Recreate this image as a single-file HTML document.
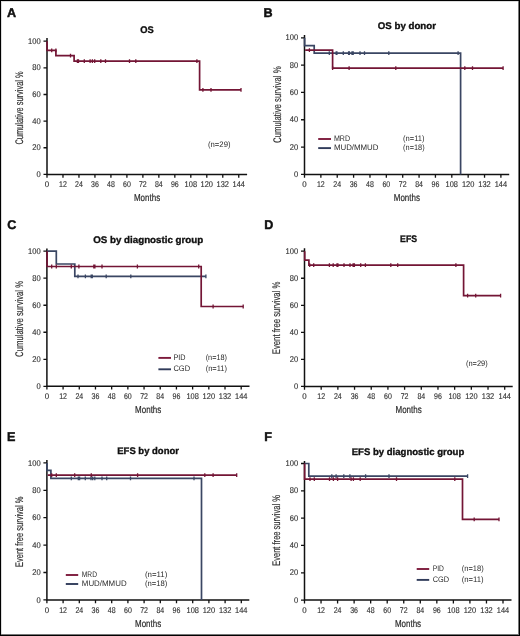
<!DOCTYPE html>
<html><head><meta charset="utf-8"><style>
html,body{margin:0;padding:0;background:#fff;}
svg{display:block;will-change:transform;}
text{font-family:"Liberation Sans",sans-serif;text-rendering:geometricPrecision;}
.t{font-size:8.3px;fill:#333;stroke:#333;stroke-width:0.15px;}
.m{font-size:10.2px;fill:#2b2b2b;stroke:#2b2b2b;stroke-width:0.2px;}
.yt{font-size:11px;fill:#2b2b2b;stroke:#2b2b2b;stroke-width:0.15px;}
.ti{font-size:9.6px;font-weight:bold;fill:#111;stroke:#111;stroke-width:0.35px;}
.pl{font-size:12.6px;font-weight:bold;fill:#111;stroke:#111;stroke-width:0.45px;}
.lg{font-size:8px;fill:#2b2b2b;}
</style></head><body>
<svg width="520" height="636" viewBox="0 0 520 636">
<rect x="0" y="0" width="520" height="636" fill="#fff"/>
<g id="pA"><path d="M47,38 V174.4 H247.1" fill="none" stroke="#111" stroke-width="1.5"/>
<text x="40.7" y="177" text-anchor="end" class="t" textLength="4.2" lengthAdjust="spacingAndGlyphs">0</text>
<text x="40.7" y="150.36" text-anchor="end" class="t" textLength="8.4" lengthAdjust="spacingAndGlyphs">20</text>
<text x="40.7" y="123.72" text-anchor="end" class="t" textLength="8.4" lengthAdjust="spacingAndGlyphs">40</text>
<text x="40.7" y="97.08" text-anchor="end" class="t" textLength="8.4" lengthAdjust="spacingAndGlyphs">60</text>
<text x="40.7" y="70.44" text-anchor="end" class="t" textLength="8.4" lengthAdjust="spacingAndGlyphs">80</text>
<text x="40.7" y="43.8" text-anchor="end" class="t" textLength="12.6" lengthAdjust="spacingAndGlyphs">100</text>
<text x="47" y="187.3" text-anchor="middle" class="t" textLength="4.4" lengthAdjust="spacingAndGlyphs">0</text>
<text x="62.98" y="187.3" text-anchor="middle" class="t" textLength="7.8" lengthAdjust="spacingAndGlyphs">12</text>
<text x="78.96" y="187.3" text-anchor="middle" class="t" textLength="7.8" lengthAdjust="spacingAndGlyphs">24</text>
<text x="94.94" y="187.3" text-anchor="middle" class="t" textLength="7.8" lengthAdjust="spacingAndGlyphs">36</text>
<text x="110.92" y="187.3" text-anchor="middle" class="t" textLength="7.8" lengthAdjust="spacingAndGlyphs">48</text>
<text x="126.9" y="187.3" text-anchor="middle" class="t" textLength="7.8" lengthAdjust="spacingAndGlyphs">60</text>
<text x="142.88" y="187.3" text-anchor="middle" class="t" textLength="7.8" lengthAdjust="spacingAndGlyphs">72</text>
<text x="158.85" y="187.3" text-anchor="middle" class="t" textLength="7.8" lengthAdjust="spacingAndGlyphs">84</text>
<text x="174.83" y="187.3" text-anchor="middle" class="t" textLength="7.8" lengthAdjust="spacingAndGlyphs">96</text>
<text x="190.81" y="187.3" text-anchor="middle" class="t" textLength="12.4" lengthAdjust="spacingAndGlyphs">108</text>
<text x="206.79" y="187.3" text-anchor="middle" class="t" textLength="12.4" lengthAdjust="spacingAndGlyphs">120</text>
<text x="222.77" y="187.3" text-anchor="middle" class="t" textLength="12.4" lengthAdjust="spacingAndGlyphs">132</text>
<text x="238.75" y="187.3" text-anchor="middle" class="t" textLength="12.4" lengthAdjust="spacingAndGlyphs">144</text>
<path d="M43.5,174.4 H47 M43.5,147.76 H47 M43.5,121.12 H47 M43.5,94.48 H47 M43.5,67.84 H47 M43.5,41.2 H47 M47,174.4 V177.7 M62.98,174.4 V177.7 M78.96,174.4 V177.7 M94.94,174.4 V177.7 M110.92,174.4 V177.7 M126.9,174.4 V177.7 M142.88,174.4 V177.7 M158.85,174.4 V177.7 M174.83,174.4 V177.7 M190.81,174.4 V177.7 M206.79,174.4 V177.7 M222.77,174.4 V177.7 M238.75,174.4 V177.7" fill="none" stroke="#111" stroke-width="1.3"/>
<text x="147.05" y="201.1" text-anchor="middle" class="m" textLength="26.2" lengthAdjust="spacingAndGlyphs">Months</text>
<text transform="translate(22.6,108) rotate(-90)" x="0" y="0" text-anchor="middle" class="yt" textLength="73.2" lengthAdjust="spacingAndGlyphs">Cumulative survival %</text>
<text x="147.05" y="32.8" text-anchor="middle" class="ti" textLength="13.5" lengthAdjust="spacingAndGlyphs">OS</text>
<text x="7" y="17" class="pl">A</text>
<path d="M47.1,41.2 V50.4 H55.9 V55.6 H74.1 V61.2 H199.6 V89.8 H241" fill="none" stroke="#731535" stroke-width="1.7"/>
<path d="M51.7,48.5 V52.3 M55.9,48.5 V52.3 M70.5,53.7 V57.5 M77.4,59.3 V63.1 M78.5,59.3 V63.1 M84.3,59.3 V63.1 M90.1,59.3 V63.1 M92.4,59.3 V63.1 M94.7,59.3 V63.1 M100.8,59.3 V63.1 M105.5,59.3 V63.1 M129.5,59.3 V63.1 M135.8,59.3 V63.1 M196.9,59.3 V63.1 M202.9,87.9 V91.7 M211,87.9 V91.7 M241,87.9 V91.7" fill="none" stroke="#731535" stroke-width="1.3"/>
<text x="208" y="146.7" class="lg" textLength="22.5" lengthAdjust="spacingAndGlyphs">(n=29)</text></g>
<g id="pB"><path d="M304.5,34.9 V174.4 H509.2" fill="none" stroke="#111" stroke-width="1.5"/>
<text x="298.2" y="177" text-anchor="end" class="t" textLength="4.2" lengthAdjust="spacingAndGlyphs">0</text>
<text x="298.2" y="149.68" text-anchor="end" class="t" textLength="8.4" lengthAdjust="spacingAndGlyphs">20</text>
<text x="298.2" y="122.36" text-anchor="end" class="t" textLength="8.4" lengthAdjust="spacingAndGlyphs">40</text>
<text x="298.2" y="95.04" text-anchor="end" class="t" textLength="8.4" lengthAdjust="spacingAndGlyphs">60</text>
<text x="298.2" y="67.72" text-anchor="end" class="t" textLength="8.4" lengthAdjust="spacingAndGlyphs">80</text>
<text x="298.2" y="40.4" text-anchor="end" class="t" textLength="12.6" lengthAdjust="spacingAndGlyphs">100</text>
<text x="304.5" y="187.3" text-anchor="middle" class="t" textLength="4.4" lengthAdjust="spacingAndGlyphs">0</text>
<text x="320.87" y="187.3" text-anchor="middle" class="t" textLength="7.8" lengthAdjust="spacingAndGlyphs">12</text>
<text x="337.23" y="187.3" text-anchor="middle" class="t" textLength="7.8" lengthAdjust="spacingAndGlyphs">24</text>
<text x="353.6" y="187.3" text-anchor="middle" class="t" textLength="7.8" lengthAdjust="spacingAndGlyphs">36</text>
<text x="369.97" y="187.3" text-anchor="middle" class="t" textLength="7.8" lengthAdjust="spacingAndGlyphs">48</text>
<text x="386.33" y="187.3" text-anchor="middle" class="t" textLength="7.8" lengthAdjust="spacingAndGlyphs">60</text>
<text x="402.7" y="187.3" text-anchor="middle" class="t" textLength="7.8" lengthAdjust="spacingAndGlyphs">72</text>
<text x="419.07" y="187.3" text-anchor="middle" class="t" textLength="7.8" lengthAdjust="spacingAndGlyphs">84</text>
<text x="435.43" y="187.3" text-anchor="middle" class="t" textLength="7.8" lengthAdjust="spacingAndGlyphs">96</text>
<text x="451.8" y="187.3" text-anchor="middle" class="t" textLength="12.4" lengthAdjust="spacingAndGlyphs">108</text>
<text x="468.17" y="187.3" text-anchor="middle" class="t" textLength="12.4" lengthAdjust="spacingAndGlyphs">120</text>
<text x="484.53" y="187.3" text-anchor="middle" class="t" textLength="12.4" lengthAdjust="spacingAndGlyphs">132</text>
<text x="500.9" y="187.3" text-anchor="middle" class="t" textLength="12.4" lengthAdjust="spacingAndGlyphs">144</text>
<path d="M301,174.4 H304.5 M301,147.08 H304.5 M301,119.76 H304.5 M301,92.44 H304.5 M301,65.12 H304.5 M301,37.8 H304.5 M304.5,174.4 V177.7 M320.87,174.4 V177.7 M337.23,174.4 V177.7 M353.6,174.4 V177.7 M369.97,174.4 V177.7 M386.33,174.4 V177.7 M402.7,174.4 V177.7 M419.07,174.4 V177.7 M435.43,174.4 V177.7 M451.8,174.4 V177.7 M468.17,174.4 V177.7 M484.53,174.4 V177.7 M500.9,174.4 V177.7" fill="none" stroke="#111" stroke-width="1.3"/>
<text x="406.85" y="201.1" text-anchor="middle" class="m" textLength="26.2" lengthAdjust="spacingAndGlyphs">Months</text>
<text transform="translate(280.8,104.7) rotate(-90)" x="0" y="0" text-anchor="middle" class="yt" textLength="76.6" lengthAdjust="spacingAndGlyphs">Cumulative survival %</text>
<text x="406.85" y="28.9" text-anchor="middle" class="ti" textLength="58.2" lengthAdjust="spacingAndGlyphs">OS by donor</text>
<text x="263.5" y="17" class="pl">B</text>
<path d="M304.6,37.8 V45.7 H314.2 V53.1 H460.6 V174.4" fill="none" stroke="#3a4663" stroke-width="1.7"/>
<path d="M329.3,51.2 V55 M336.2,51.2 V55 M336.9,51.2 V55 M343.3,51.2 V55 M348.6,51.2 V55 M349.4,51.2 V55 M352,51.2 V55 M353.2,51.2 V55 M360,51.2 V55 M364.5,51.2 V55 M388.8,51.2 V55 M458.1,51.2 V55" fill="none" stroke="#3a4663" stroke-width="1.3"/>
<path d="M305.2,50.2 H332.6 V68.2 H503.1" fill="none" stroke="#731535" stroke-width="1.7"/>
<path d="M309.4,48.3 V52.1 M332.6,66.3 V70.1 M349.1,66.3 V70.1 M395.8,66.3 V70.1 M464.8,66.3 V70.1 M472.5,66.3 V70.1 M503.1,66.3 V70.1" fill="none" stroke="#731535" stroke-width="1.3"/>
<path d="M318.2,139 H331" stroke="#7d1a3c" stroke-width="1.9"/>
<text x="333.9" y="140.8" class="lg" textLength="16.2" lengthAdjust="spacingAndGlyphs">MRD</text>
<text x="403.1" y="140.8" class="lg" textLength="21.5" lengthAdjust="spacingAndGlyphs">(n=11)</text>
<path d="M318.2,148.1 H331" stroke="#303b5a" stroke-width="1.9"/>
<text x="333.9" y="149.9" class="lg" textLength="44.6" lengthAdjust="spacingAndGlyphs">MUD/MMUD</text>
<text x="403.1" y="149.9" class="lg" textLength="21.5" lengthAdjust="spacingAndGlyphs">(n=18)</text></g>
<g id="pC"><path d="M46.9,248.5 V386.3 H249.5" fill="none" stroke="#111" stroke-width="1.5"/>
<text x="40.6" y="388.9" text-anchor="end" class="t" textLength="4.2" lengthAdjust="spacingAndGlyphs">0</text>
<text x="40.6" y="361.88" text-anchor="end" class="t" textLength="8.4" lengthAdjust="spacingAndGlyphs">20</text>
<text x="40.6" y="334.86" text-anchor="end" class="t" textLength="8.4" lengthAdjust="spacingAndGlyphs">40</text>
<text x="40.6" y="307.84" text-anchor="end" class="t" textLength="8.4" lengthAdjust="spacingAndGlyphs">60</text>
<text x="40.6" y="280.82" text-anchor="end" class="t" textLength="8.4" lengthAdjust="spacingAndGlyphs">80</text>
<text x="40.6" y="253.8" text-anchor="end" class="t" textLength="12.6" lengthAdjust="spacingAndGlyphs">100</text>
<text x="46.9" y="399.2" text-anchor="middle" class="t" textLength="4.4" lengthAdjust="spacingAndGlyphs">0</text>
<text x="63.09" y="399.2" text-anchor="middle" class="t" textLength="7.8" lengthAdjust="spacingAndGlyphs">12</text>
<text x="79.28" y="399.2" text-anchor="middle" class="t" textLength="7.8" lengthAdjust="spacingAndGlyphs">24</text>
<text x="95.47" y="399.2" text-anchor="middle" class="t" textLength="7.8" lengthAdjust="spacingAndGlyphs">36</text>
<text x="111.67" y="399.2" text-anchor="middle" class="t" textLength="7.8" lengthAdjust="spacingAndGlyphs">48</text>
<text x="127.86" y="399.2" text-anchor="middle" class="t" textLength="7.8" lengthAdjust="spacingAndGlyphs">60</text>
<text x="144.05" y="399.2" text-anchor="middle" class="t" textLength="7.8" lengthAdjust="spacingAndGlyphs">72</text>
<text x="160.24" y="399.2" text-anchor="middle" class="t" textLength="7.8" lengthAdjust="spacingAndGlyphs">84</text>
<text x="176.43" y="399.2" text-anchor="middle" class="t" textLength="7.8" lengthAdjust="spacingAndGlyphs">96</text>
<text x="192.62" y="399.2" text-anchor="middle" class="t" textLength="12.4" lengthAdjust="spacingAndGlyphs">108</text>
<text x="208.82" y="399.2" text-anchor="middle" class="t" textLength="12.4" lengthAdjust="spacingAndGlyphs">120</text>
<text x="225.01" y="399.2" text-anchor="middle" class="t" textLength="12.4" lengthAdjust="spacingAndGlyphs">132</text>
<text x="241.2" y="399.2" text-anchor="middle" class="t" textLength="12.4" lengthAdjust="spacingAndGlyphs">144</text>
<path d="M43.4,386.3 H46.9 M43.4,359.28 H46.9 M43.4,332.26 H46.9 M43.4,305.24 H46.9 M43.4,278.22 H46.9 M43.4,251.2 H46.9 M46.9,386.3 V389.6 M63.09,386.3 V389.6 M79.28,386.3 V389.6 M95.47,386.3 V389.6 M111.67,386.3 V389.6 M127.86,386.3 V389.6 M144.05,386.3 V389.6 M160.24,386.3 V389.6 M176.43,386.3 V389.6 M192.62,386.3 V389.6 M208.82,386.3 V389.6 M225.01,386.3 V389.6 M241.2,386.3 V389.6" fill="none" stroke="#111" stroke-width="1.3"/>
<text x="148.2" y="413" text-anchor="middle" class="m" textLength="26.2" lengthAdjust="spacingAndGlyphs">Months</text>
<text transform="translate(22.9,318.9) rotate(-90)" x="0" y="0" text-anchor="middle" class="yt" textLength="76.0" lengthAdjust="spacingAndGlyphs">Cumulative survival %</text>
<text x="148.2" y="243" text-anchor="middle" class="ti" textLength="110" lengthAdjust="spacingAndGlyphs">OS by diagnostic group</text>
<text x="7.2" y="229" class="pl">C</text>
<path d="M47,251.2 H56.3 V264 H74.8 V276.4 H205.9" fill="none" stroke="#3a4663" stroke-width="1.7"/>
<path d="M78,274.5 V278.3 M85.4,274.5 V278.3 M91.2,274.5 V278.3 M92.3,274.5 V278.3 M106.2,274.5 V278.3 M130.8,274.5 V278.3 M205.9,274.5 V278.3" fill="none" stroke="#3a4663" stroke-width="1.3"/>
<path d="M47.1,251.2 V266.5 H201.2 V306.5 H243.2" fill="none" stroke="#731535" stroke-width="1.7"/>
<path d="M51.7,264.6 V268.4 M56.3,264.6 V268.4 M71.3,264.6 V268.4 M78.9,264.6 V268.4 M93.8,264.6 V268.4 M94.9,264.6 V268.4 M102,264.6 V268.4 M137.4,264.6 V268.4 M198.7,264.6 V268.4 M213.1,304.6 V308.4 M243.2,304.6 V308.4" fill="none" stroke="#731535" stroke-width="1.3"/>
<path d="M158.4,357.9 H171" stroke="#7d1a3c" stroke-width="1.9"/>
<text x="173.4" y="359.7" class="lg" textLength="12.1" lengthAdjust="spacingAndGlyphs">PID</text>
<text x="205.7" y="359.7" class="lg" textLength="21.3" lengthAdjust="spacingAndGlyphs">(n=18)</text>
<path d="M158.4,369.3 H171" stroke="#303b5a" stroke-width="1.9"/>
<text x="173.4" y="371.1" class="lg" textLength="16.7" lengthAdjust="spacingAndGlyphs">CGD</text>
<text x="205.7" y="371.1" class="lg" textLength="21.3" lengthAdjust="spacingAndGlyphs">(n=11)</text></g>
<g id="pD"><path d="M304.5,248.2 V386.4 H512.7" fill="none" stroke="#111" stroke-width="1.5"/>
<text x="298.2" y="389" text-anchor="end" class="t" textLength="4.2" lengthAdjust="spacingAndGlyphs">0</text>
<text x="298.2" y="361.96" text-anchor="end" class="t" textLength="8.4" lengthAdjust="spacingAndGlyphs">20</text>
<text x="298.2" y="334.92" text-anchor="end" class="t" textLength="8.4" lengthAdjust="spacingAndGlyphs">40</text>
<text x="298.2" y="307.88" text-anchor="end" class="t" textLength="8.4" lengthAdjust="spacingAndGlyphs">60</text>
<text x="298.2" y="280.84" text-anchor="end" class="t" textLength="8.4" lengthAdjust="spacingAndGlyphs">80</text>
<text x="298.2" y="253.8" text-anchor="end" class="t" textLength="12.6" lengthAdjust="spacingAndGlyphs">100</text>
<text x="304.5" y="399.3" text-anchor="middle" class="t" textLength="4.4" lengthAdjust="spacingAndGlyphs">0</text>
<text x="321.18" y="399.3" text-anchor="middle" class="t" textLength="7.8" lengthAdjust="spacingAndGlyphs">12</text>
<text x="337.87" y="399.3" text-anchor="middle" class="t" textLength="7.8" lengthAdjust="spacingAndGlyphs">24</text>
<text x="354.55" y="399.3" text-anchor="middle" class="t" textLength="7.8" lengthAdjust="spacingAndGlyphs">36</text>
<text x="371.23" y="399.3" text-anchor="middle" class="t" textLength="7.8" lengthAdjust="spacingAndGlyphs">48</text>
<text x="387.92" y="399.3" text-anchor="middle" class="t" textLength="7.8" lengthAdjust="spacingAndGlyphs">60</text>
<text x="404.6" y="399.3" text-anchor="middle" class="t" textLength="7.8" lengthAdjust="spacingAndGlyphs">72</text>
<text x="421.28" y="399.3" text-anchor="middle" class="t" textLength="7.8" lengthAdjust="spacingAndGlyphs">84</text>
<text x="437.97" y="399.3" text-anchor="middle" class="t" textLength="7.8" lengthAdjust="spacingAndGlyphs">96</text>
<text x="454.65" y="399.3" text-anchor="middle" class="t" textLength="12.4" lengthAdjust="spacingAndGlyphs">108</text>
<text x="471.33" y="399.3" text-anchor="middle" class="t" textLength="12.4" lengthAdjust="spacingAndGlyphs">120</text>
<text x="488.02" y="399.3" text-anchor="middle" class="t" textLength="12.4" lengthAdjust="spacingAndGlyphs">132</text>
<text x="504.7" y="399.3" text-anchor="middle" class="t" textLength="12.4" lengthAdjust="spacingAndGlyphs">144</text>
<path d="M301,386.4 H304.5 M301,359.36 H304.5 M301,332.32 H304.5 M301,305.28 H304.5 M301,278.24 H304.5 M301,251.2 H304.5 M304.5,386.4 V389.7 M321.18,386.4 V389.7 M337.87,386.4 V389.7 M354.55,386.4 V389.7 M371.23,386.4 V389.7 M387.92,386.4 V389.7 M404.6,386.4 V389.7 M421.28,386.4 V389.7 M437.97,386.4 V389.7 M454.65,386.4 V389.7 M471.33,386.4 V389.7 M488.02,386.4 V389.7 M504.7,386.4 V389.7" fill="none" stroke="#111" stroke-width="1.3"/>
<text x="408.6" y="413.1" text-anchor="middle" class="m" textLength="26.2" lengthAdjust="spacingAndGlyphs">Months</text>
<text transform="translate(280.4,317.9) rotate(-90)" x="0" y="0" text-anchor="middle" class="yt" textLength="72.6" lengthAdjust="spacingAndGlyphs">Event free survival %</text>
<text x="408.6" y="242.1" text-anchor="middle" class="ti" textLength="17" lengthAdjust="spacingAndGlyphs">EFS</text>
<text x="264.2" y="228.5" class="pl">D</text>
<path d="M304.7,251.2 V260.2 H308.9 V265.2 H463.6 V295.7 H500.6" fill="none" stroke="#731535" stroke-width="1.7"/>
<path d="M309.7,263.3 V267.1 M313.7,263.3 V267.1 M329.4,263.3 V267.1 M333.2,263.3 V267.1 M337,263.3 V267.1 M337.9,263.3 V267.1 M344,263.3 V267.1 M350,263.3 V267.1 M353.1,263.3 V267.1 M354.4,263.3 V267.1 M360.7,263.3 V267.1 M365.4,263.3 V267.1 M390.8,263.3 V267.1 M397.7,263.3 V267.1 M455.9,263.3 V267.1 M467.6,293.8 V297.6 M475.7,293.8 V297.6 M500.6,293.8 V297.6" fill="none" stroke="#731535" stroke-width="1.3"/>
<text x="466" y="365.8" class="lg" textLength="21.7" lengthAdjust="spacingAndGlyphs">(n=29)</text></g>
<g id="pE"><path d="M46.9,460 V599.9 H249.3" fill="none" stroke="#111" stroke-width="1.5"/>
<text x="40.6" y="602.5" text-anchor="end" class="t" textLength="4.2" lengthAdjust="spacingAndGlyphs">0</text>
<text x="40.6" y="575.1" text-anchor="end" class="t" textLength="8.4" lengthAdjust="spacingAndGlyphs">20</text>
<text x="40.6" y="547.7" text-anchor="end" class="t" textLength="8.4" lengthAdjust="spacingAndGlyphs">40</text>
<text x="40.6" y="520.3" text-anchor="end" class="t" textLength="8.4" lengthAdjust="spacingAndGlyphs">60</text>
<text x="40.6" y="492.9" text-anchor="end" class="t" textLength="8.4" lengthAdjust="spacingAndGlyphs">80</text>
<text x="40.6" y="465.5" text-anchor="end" class="t" textLength="12.6" lengthAdjust="spacingAndGlyphs">100</text>
<text x="46.9" y="612.8" text-anchor="middle" class="t" textLength="4.4" lengthAdjust="spacingAndGlyphs">0</text>
<text x="63.1" y="612.8" text-anchor="middle" class="t" textLength="7.8" lengthAdjust="spacingAndGlyphs">12</text>
<text x="79.3" y="612.8" text-anchor="middle" class="t" textLength="7.8" lengthAdjust="spacingAndGlyphs">24</text>
<text x="95.5" y="612.8" text-anchor="middle" class="t" textLength="7.8" lengthAdjust="spacingAndGlyphs">36</text>
<text x="111.7" y="612.8" text-anchor="middle" class="t" textLength="7.8" lengthAdjust="spacingAndGlyphs">48</text>
<text x="127.9" y="612.8" text-anchor="middle" class="t" textLength="7.8" lengthAdjust="spacingAndGlyphs">60</text>
<text x="144.1" y="612.8" text-anchor="middle" class="t" textLength="7.8" lengthAdjust="spacingAndGlyphs">72</text>
<text x="160.3" y="612.8" text-anchor="middle" class="t" textLength="7.8" lengthAdjust="spacingAndGlyphs">84</text>
<text x="176.5" y="612.8" text-anchor="middle" class="t" textLength="7.8" lengthAdjust="spacingAndGlyphs">96</text>
<text x="192.7" y="612.8" text-anchor="middle" class="t" textLength="12.4" lengthAdjust="spacingAndGlyphs">108</text>
<text x="208.9" y="612.8" text-anchor="middle" class="t" textLength="12.4" lengthAdjust="spacingAndGlyphs">120</text>
<text x="225.1" y="612.8" text-anchor="middle" class="t" textLength="12.4" lengthAdjust="spacingAndGlyphs">132</text>
<text x="241.3" y="612.8" text-anchor="middle" class="t" textLength="12.4" lengthAdjust="spacingAndGlyphs">144</text>
<path d="M43.4,599.9 H46.9 M43.4,572.5 H46.9 M43.4,545.1 H46.9 M43.4,517.7 H46.9 M43.4,490.3 H46.9 M43.4,462.9 H46.9 M46.9,599.9 V603.2 M63.1,599.9 V603.2 M79.3,599.9 V603.2 M95.5,599.9 V603.2 M111.7,599.9 V603.2 M127.9,599.9 V603.2 M144.1,599.9 V603.2 M160.3,599.9 V603.2 M176.5,599.9 V603.2 M192.7,599.9 V603.2 M208.9,599.9 V603.2 M225.1,599.9 V603.2 M241.3,599.9 V603.2" fill="none" stroke="#111" stroke-width="1.3"/>
<text x="148.1" y="626.6" text-anchor="middle" class="m" textLength="26.2" lengthAdjust="spacingAndGlyphs">Months</text>
<text transform="translate(22.9,531.8) rotate(-90)" x="0" y="0" text-anchor="middle" class="yt" textLength="70.4" lengthAdjust="spacingAndGlyphs">Event free survival %</text>
<text x="148.1" y="454.2" text-anchor="middle" class="ti" textLength="61.7" lengthAdjust="spacingAndGlyphs">EFS by donor</text>
<text x="7" y="441" class="pl">E</text>
<path d="M47.0,462.9 V470.4 H50.9 V478.4 H201.5 V599.9" fill="none" stroke="#3a4663" stroke-width="1.7"/>
<path d="M71.3,476.5 V480.3 M78.3,476.5 V480.3 M79.6,476.5 V480.3 M85.3,476.5 V480.3 M91,476.5 V480.3 M92.7,476.5 V480.3 M94.8,476.5 V480.3 M102,476.5 V480.3 M106.7,476.5 V480.3 M130.5,476.5 V480.3 M194,476.5 V480.3" fill="none" stroke="#3a4663" stroke-width="1.3"/>
<path d="M47.8,475.2 H237" fill="none" stroke="#731535" stroke-width="1.7"/>
<path d="M51.7,473.3 V477.1 M56.3,473.3 V477.1 M74.7,473.3 V477.1 M91.3,473.3 V477.1 M137.6,473.3 V477.1 M204.8,473.3 V477.1 M213.1,473.3 V477.1 M236.7,473.3 V477.1" fill="none" stroke="#731535" stroke-width="1.3"/>
<path d="M65.8,575 H78.2" stroke="#7d1a3c" stroke-width="1.9"/>
<text x="81.8" y="576.8" class="lg" textLength="15.2" lengthAdjust="spacingAndGlyphs">MRD</text>
<text x="144.9" y="576.8" class="lg" textLength="22.4" lengthAdjust="spacingAndGlyphs">(n=11)</text>
<path d="M65.8,584 H78.2" stroke="#303b5a" stroke-width="1.9"/>
<text x="81.8" y="585.8" class="lg" textLength="44.8" lengthAdjust="spacingAndGlyphs">MUD/MMUD</text>
<text x="144.9" y="585.8" class="lg" textLength="22.4" lengthAdjust="spacingAndGlyphs">(n=18)</text></g>
<g id="pF"><path d="M304.5,461 V600.1 H511.5" fill="none" stroke="#111" stroke-width="1.5"/>
<text x="298.2" y="602.7" text-anchor="end" class="t" textLength="4.2" lengthAdjust="spacingAndGlyphs">0</text>
<text x="298.2" y="575.38" text-anchor="end" class="t" textLength="8.4" lengthAdjust="spacingAndGlyphs">20</text>
<text x="298.2" y="548.06" text-anchor="end" class="t" textLength="8.4" lengthAdjust="spacingAndGlyphs">40</text>
<text x="298.2" y="520.74" text-anchor="end" class="t" textLength="8.4" lengthAdjust="spacingAndGlyphs">60</text>
<text x="298.2" y="493.42" text-anchor="end" class="t" textLength="8.4" lengthAdjust="spacingAndGlyphs">80</text>
<text x="298.2" y="466.1" text-anchor="end" class="t" textLength="12.6" lengthAdjust="spacingAndGlyphs">100</text>
<text x="304.5" y="613" text-anchor="middle" class="t" textLength="4.4" lengthAdjust="spacingAndGlyphs">0</text>
<text x="321.04" y="613" text-anchor="middle" class="t" textLength="7.8" lengthAdjust="spacingAndGlyphs">12</text>
<text x="337.58" y="613" text-anchor="middle" class="t" textLength="7.8" lengthAdjust="spacingAndGlyphs">24</text>
<text x="354.12" y="613" text-anchor="middle" class="t" textLength="7.8" lengthAdjust="spacingAndGlyphs">36</text>
<text x="370.67" y="613" text-anchor="middle" class="t" textLength="7.8" lengthAdjust="spacingAndGlyphs">48</text>
<text x="387.21" y="613" text-anchor="middle" class="t" textLength="7.8" lengthAdjust="spacingAndGlyphs">60</text>
<text x="403.75" y="613" text-anchor="middle" class="t" textLength="7.8" lengthAdjust="spacingAndGlyphs">72</text>
<text x="420.29" y="613" text-anchor="middle" class="t" textLength="7.8" lengthAdjust="spacingAndGlyphs">84</text>
<text x="436.83" y="613" text-anchor="middle" class="t" textLength="7.8" lengthAdjust="spacingAndGlyphs">96</text>
<text x="453.38" y="613" text-anchor="middle" class="t" textLength="12.4" lengthAdjust="spacingAndGlyphs">108</text>
<text x="469.92" y="613" text-anchor="middle" class="t" textLength="12.4" lengthAdjust="spacingAndGlyphs">120</text>
<text x="486.46" y="613" text-anchor="middle" class="t" textLength="12.4" lengthAdjust="spacingAndGlyphs">132</text>
<text x="503" y="613" text-anchor="middle" class="t" textLength="12.4" lengthAdjust="spacingAndGlyphs">144</text>
<path d="M301,600.1 H304.5 M301,572.78 H304.5 M301,545.46 H304.5 M301,518.14 H304.5 M301,490.82 H304.5 M301,463.5 H304.5 M304.5,600.1 V603.4 M321.04,600.1 V603.4 M337.58,600.1 V603.4 M354.12,600.1 V603.4 M370.67,600.1 V603.4 M387.21,600.1 V603.4 M403.75,600.1 V603.4 M420.29,600.1 V603.4 M436.83,600.1 V603.4 M453.38,600.1 V603.4 M469.92,600.1 V603.4 M486.46,600.1 V603.4 M503,600.1 V603.4" fill="none" stroke="#111" stroke-width="1.3"/>
<text x="408" y="626.8" text-anchor="middle" class="m" textLength="26.2" lengthAdjust="spacingAndGlyphs">Months</text>
<text transform="translate(280.4,530.45) rotate(-90)" x="0" y="0" text-anchor="middle" class="yt" textLength="70.8" lengthAdjust="spacingAndGlyphs">Event free survival %</text>
<text x="408" y="454.8" text-anchor="middle" class="ti" textLength="112.5" lengthAdjust="spacingAndGlyphs">EFS by diagnostic group</text>
<text x="264.2" y="441" class="pl">F</text>
<path d="M304.5,463.5 H308.8 V476.1 H467.6" fill="none" stroke="#3a4663" stroke-width="1.7"/>
<path d="M331.8,474.2 V478 M336.1,474.2 V478 M343.8,474.2 V478 M349.9,474.2 V478 M365.6,474.2 V478 M389,474.2 V478 M467.6,474.2 V478" fill="none" stroke="#3a4663" stroke-width="1.3"/>
<path d="M304.6,463.5 V479.1 H462.5 V519.4 H499" fill="none" stroke="#731535" stroke-width="1.7"/>
<path d="M310,477.2 V481 M314.3,477.2 V481 M329.5,477.2 V481 M333.4,477.2 V481 M337.6,477.2 V481 M351.1,477.2 V481 M353.4,477.2 V481 M360.2,477.2 V481 M396.5,477.2 V481 M454.8,477.2 V481 M474.2,517.5 V521.3 M499,517.5 V521.3" fill="none" stroke="#731535" stroke-width="1.3"/>
<path d="M416.7,569 H429.2" stroke="#7d1a3c" stroke-width="1.9"/>
<text x="432.7" y="570.8" class="lg" textLength="11.2" lengthAdjust="spacingAndGlyphs">PID</text>
<text x="461.7" y="570.8" class="lg" textLength="22.0" lengthAdjust="spacingAndGlyphs">(n=18)</text>
<path d="M416.7,579.9 H429.2" stroke="#303b5a" stroke-width="1.9"/>
<text x="432.7" y="581.7" class="lg" textLength="16.4" lengthAdjust="spacingAndGlyphs">CGD</text>
<text x="461.7" y="581.7" class="lg" textLength="22.0" lengthAdjust="spacingAndGlyphs">(n=11)</text></g>
<path d="M0.5,0 V636 M0,0.5 H520" stroke="#000" stroke-width="1"/>
<path d="M519.5,0 V636 M0,635.5 H520" stroke="#000" stroke-width="1"/>
<path d="M1.5,1 V634 M1,1.5 H518" stroke="#ddd" stroke-width="1"/>
<path d="M518.5,1 V635 M1,634.5 H519" stroke="#777" stroke-width="1"/>
</svg>
</body></html>
